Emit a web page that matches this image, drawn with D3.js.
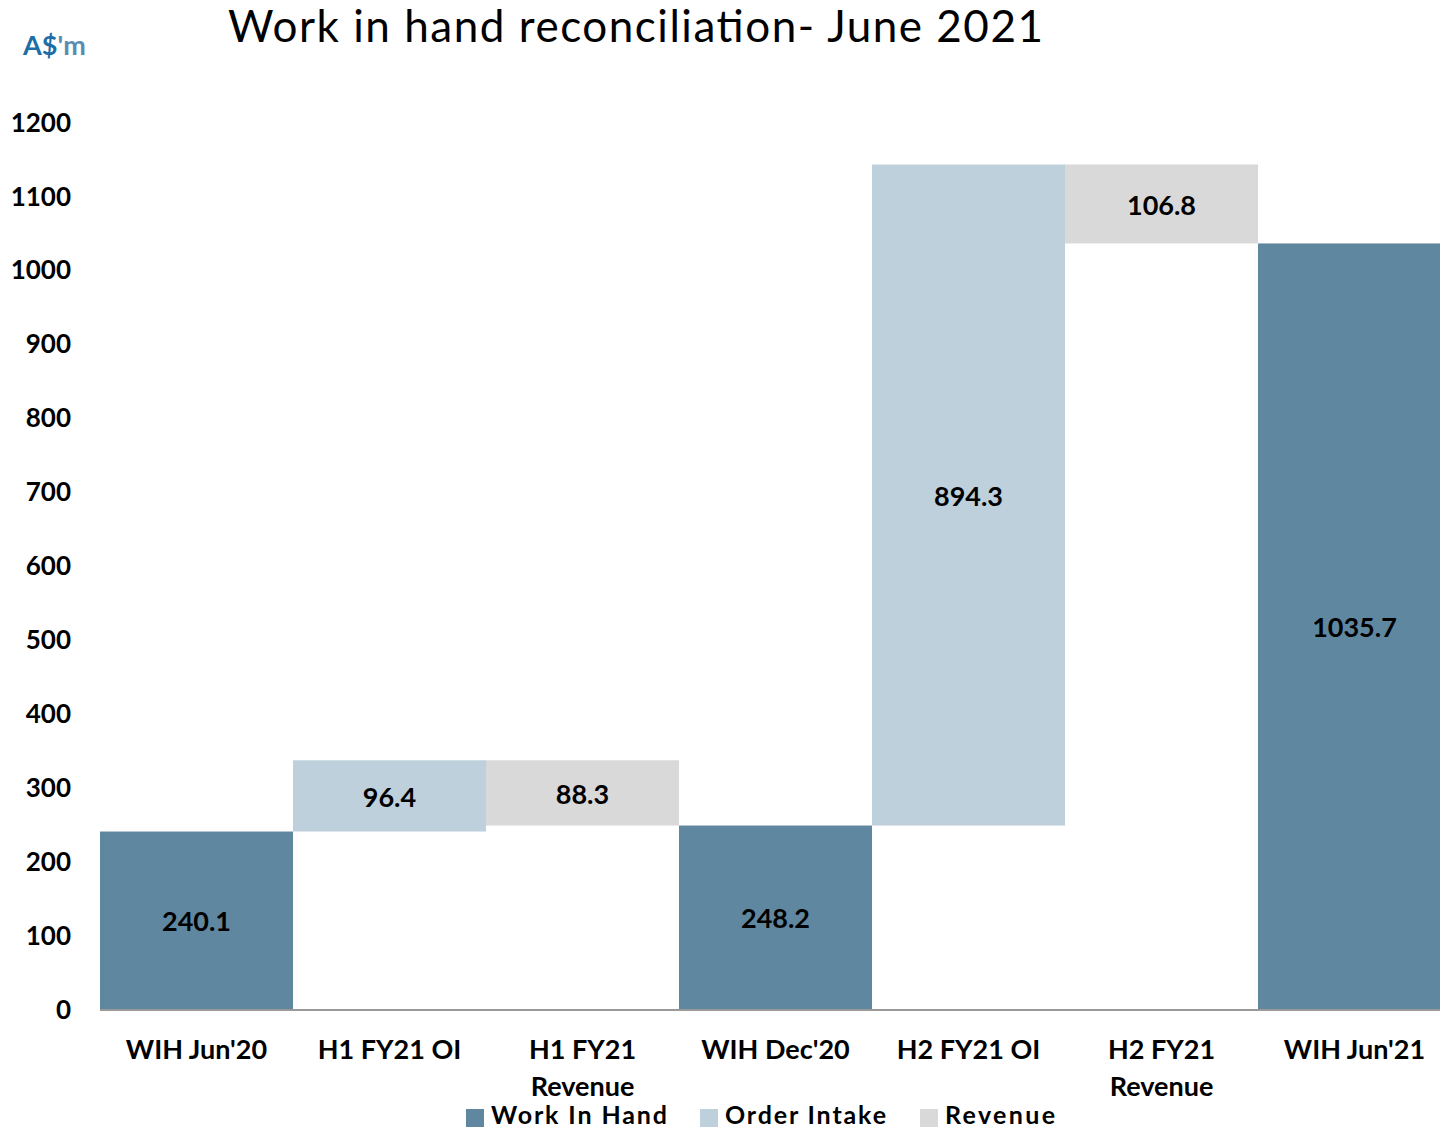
<!DOCTYPE html>
<html>
<head>
<meta charset="utf-8">
<script src="https://cdn.jsdelivr.net/npm/d3@7"></script>
<style>
  body { margin: 0; background: #fff; }
  svg { display: block; font-family: Lato, 'Open Sans', sans-serif; }
</style>
</head>
<body>
<div id="chart"></div>
<script>
'use strict';

var categories = ["WIH Jun'20", 'H1 FY21 OI', 'H1 FY21 Revenue', "WIH Dec'20", 'H2 FY21 OI', 'H2 FY21 Revenue', "WIH Jun'21"];
var catLines = [["WIH Jun'20"], ['H1 FY21 OI'], ['H1 FY21', 'Revenue'], ["WIH Dec'20"], ['H2 FY21 OI'], ['H2 FY21', 'Revenue'], ["WIH Jun'21"]];
var values = [240.1, 96.4, 88.3, 248.2, 894.3, 106.8, 1035.7];
var kinds = ['wih', 'oi', 'rev', 'wih', 'oi', 'rev', 'wih'];
var yTicks = [0, 100, 200, 300, 400, 500, 600, 700, 800, 900, 1000, 1100, 1200];
var legendNames = ['Work In Hand', 'Order Intake', 'Revenue'];

var w = 1440, h = 1131;
var colors = { wih: '#5f87a0', oi: '#bdd0db', rev: '#d9d9d9' };

// running totals for the waterfall
var bars = [];
var level = 0;
values.forEach(function (v, i) {
  var k = kinds[i];
  var lo, hi;
  if (k === 'wih') { lo = 0; hi = v; level = v; }
  else if (k === 'oi') { lo = level; hi = level + v; level = hi; }
  else { hi = level; lo = level - v; level = lo; }
  bars.push({ cat: categories[i], lines: catLines[i], v: v, kind: k, lo: lo, hi: hi });
});

var svg = d3.select('#chart').append('svg')
  .attr('width', w)
  .attr('height', h);

var x = d3.scaleBand().domain(categories).range([100, 1451]).padding(0);
var y = d3.scaleLinear().domain([0, 1200]).range([1009, 122]);

/* Title */
svg.append('text')
  .text('Work in hand reconciliation- June 2021')
  .attr('x', 228)
  .attr('y', 42)
  .attr('font-size', 44)
  .attr('textLength', 815)
  .attr('fill', '#000');

/* Unit label */
var unit = svg.append('text')
  .attr('x', 23)
  .attr('y', 55)
  .attr('font-size', 27)
  .attr('font-weight', 'bold');
unit.append('tspan').text('A$').attr('fill', '#1d6ea6');
unit.append('tspan').text("'m").attr('fill', '#5a8db2');

/* Bars */
svg.selectAll('rect.bar')
  .data(bars)
  .enter()
  .append('rect')
  .attr('class', 'bar')
  .attr('x', function (d) { return x(d.cat); })
  .attr('y', function (d) { return y(d.hi); })
  .attr('width', x.bandwidth())
  .attr('height', function (d) { return y(d.lo) - y(d.hi); })
  .style('fill', function (d) { return colors[d.kind]; });

/* Value labels */
svg.selectAll('text.val')
  .data(bars)
  .enter()
  .append('text')
  .attr('class', 'val')
  .text(function (d) { return d.v.toFixed(1); })
  .attr('x', function (d) { return x(d.cat) + x.bandwidth() / 2; })
  .attr('y', function (d) { return (y(d.lo) + y(d.hi)) / 2 + 11; })
  .attr('text-anchor', 'middle')
  .attr('font-size', 27)
  .attr('font-weight', 'bold')
  .attr('fill', '#000');

/* Baseline */
svg.append('line')
  .attr('x1', 100)
  .attr('x2', w)
  .attr('y1', y(0) + 1)
  .attr('y2', y(0) + 1)
  .style('stroke', '#999')
  .style('stroke-width', 2);

/* Y axis labels */
var yAxis = d3.axisLeft(y).tickValues(yTicks).tickFormat(d3.format('d')).tickSize(0).tickPadding(0);
var yg = svg.append('g')
  .attr('transform', 'translate(71,0)')
  .call(yAxis);
yg.select('.domain').remove();
yg.selectAll('text')
  .attr('font-size', 26)
  .attr('font-weight', 'bold')
  .attr('font-family', 'Lato, sans-serif')
  .attr('fill', '#000')
  .attr('dy', '0.35em');

/* Category labels */
var cat = svg.selectAll('text.cat')
  .data(bars)
  .enter()
  .append('text')
  .attr('class', 'cat')
  .attr('x', function (d) { return x(d.cat) + x.bandwidth() / 2; })
  .attr('y', 1059)
  .attr('text-anchor', 'middle')
  .attr('font-size', 27)
  .attr('font-weight', 'bold')
  .attr('fill', '#000');
cat.selectAll('tspan')
  .data(function (d) { return d.lines; })
  .enter()
  .append('tspan')
  .attr('x', function () { return d3.select(this.parentNode).attr('x'); })
  .attr('dy', function (d, i) { return i === 0 ? 0 : 37; })
  .text(function (d) { return d; });

/* Legend */
var legendX = [466, 700, 920];
var legendW = [176, 161, 110];
var legendKeys = ['wih', 'oi', 'rev'];
var lg = svg.selectAll('g.legend')
  .data(legendNames)
  .enter()
  .append('g')
  .attr('class', 'legend')
  .attr('transform', function (d, i) { return 'translate(' + legendX[i] + ',0)'; });
lg.append('rect')
  .attr('x', 0)
  .attr('y', 1109)
  .attr('width', 18)
  .attr('height', 18)
  .style('fill', function (d, i) { return colors[legendKeys[i]]; });
lg.append('text')
  .text(function (d) { return d; })
  .attr('x', 25)
  .attr('y', 1124)
  .attr('font-size', 25)
  .attr('textLength', function (d, i) { return legendW[i]; })
  .attr('font-weight', 'bold')
  .attr('fill', '#000');
</script>
</body>
</html>
